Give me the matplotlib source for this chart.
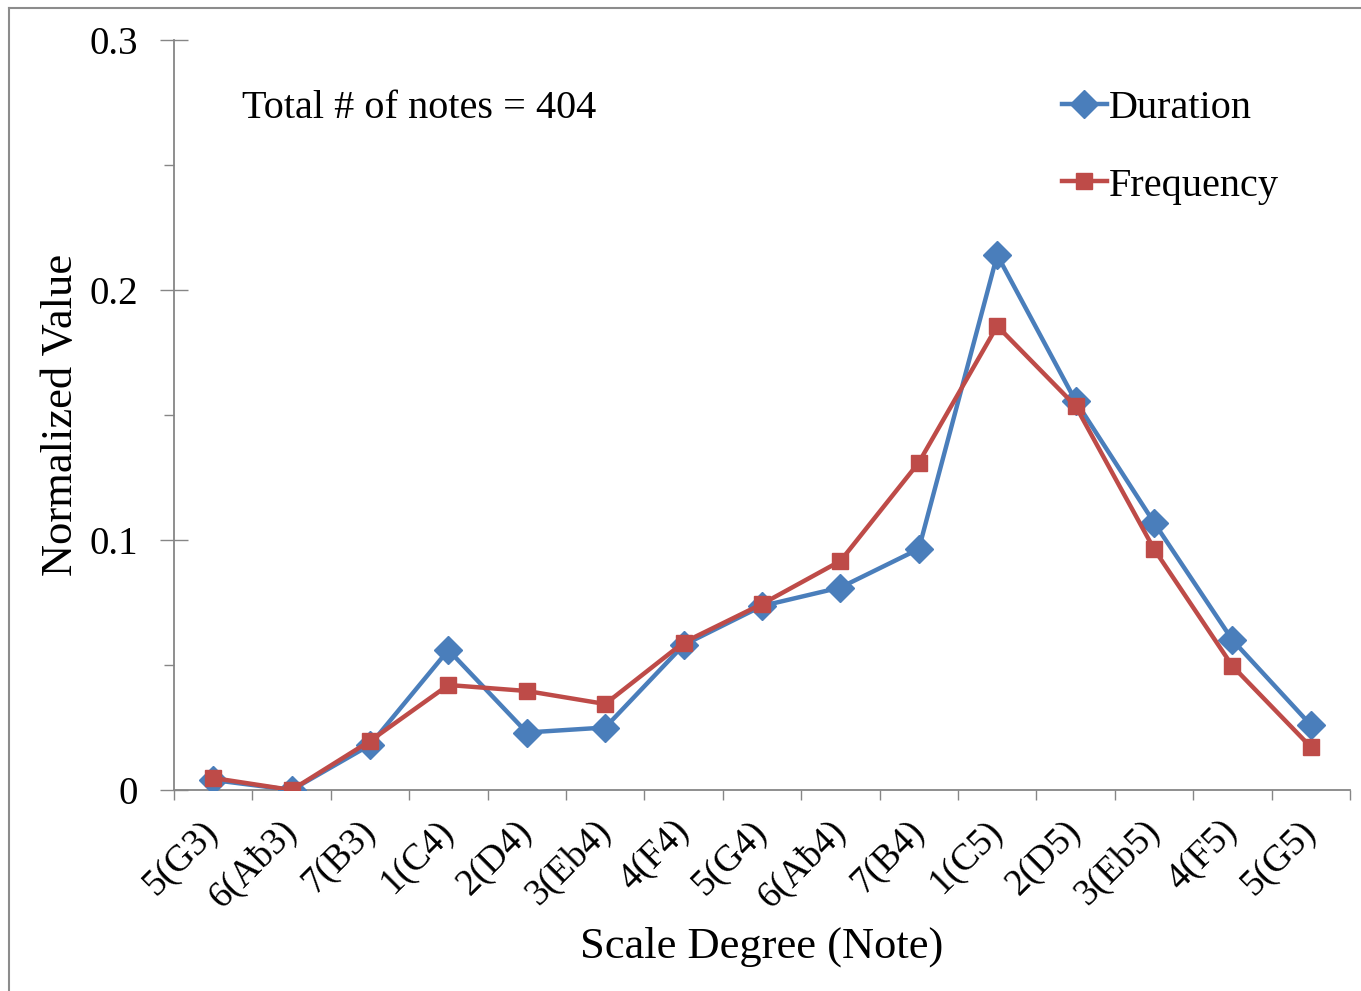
import matplotlib
matplotlib.use("Agg")
import matplotlib.pyplot as plt
from matplotlib.lines import Line2D
import numpy as np

categories = ["5(G3)", "6(A\u01803)", "7(B3)", "1(C4)", "2(D4)", "3(Eb4)", "4(F4)",
              "5(G4)", "6(A\u01804)", "7(B4)", "1(C5)", "2(D5)", "3(Eb5)", "4(F5)", "5(G5)"]
duration = [0.004, 0.0, 0.018, 0.056, 0.023, 0.025, 0.058, 0.0736, 0.081, 0.0964,
            0.214, 0.1556, 0.107, 0.060, 0.026]
frequency = [0.0048, 0.0, 0.0196, 0.042, 0.0396, 0.0344, 0.059, 0.0744, 0.0916, 0.131,
             0.1856, 0.1536, 0.0964, 0.0496, 0.0172]
y_ticks = [0, 0.1, 0.2, 0.3]
y_tick_labels = ["0", "0.1", "0.2", "0.3"]

plt.rcParams['font.family'] = ['Liberation Serif', 'DejaVu Serif']

W, H = 1361, 991
fig = plt.figure(figsize=(W / 100, H / 100), dpi=100)
ax = fig.add_axes([174 / W, 1 - 790 / H, (1350 - 174) / W, (790 - 40) / H])

x = np.arange(len(categories))
blue = "#4A7EBB"
red = "#BE4B48"
ax.plot(x, duration, color=blue, lw=3.2, marker='D', markersize=14, label="Duration", zorder=3)
ax.plot(x, frequency, color=red, lw=3.2, marker='s', markersize=12, label="Frequency", zorder=4)

ax.set_xlim(-0.5, len(categories) - 0.5)
ax.set_ylim(0, 0.3)

ax.set_xticks(np.arange(-0.5, len(categories), 1.0))
ax.set_xticklabels([])
ax.set_xticks(x, minor=True)
ax.set_xticklabels(categories, minor=True, rotation=45, ha='right', va='center',
                   rotation_mode='anchor', fontsize=27)
ax.tick_params(axis='x', which='major', direction='out', length=7, width=1, color='#868686')
ax.tick_params(axis='x', which='minor', length=0, pad=26)

ax.set_yticks(y_ticks)
ax.set_yticklabels(y_tick_labels, fontsize=28)
ax.set_yticks(np.arange(0.05, 0.3, 0.1), minor=True)
ax.tick_params(axis='y', which='major', direction='inout', length=20, width=1, color='#868686', pad=16)
ax.tick_params(axis='y', which='minor', direction='out', length=7, width=1, color='#868686')

for s in ['top', 'right']:
    ax.spines[s].set_visible(False)
for s in ['left', 'bottom']:
    ax.spines[s].set_color('#868686')
    ax.spines[s].set_linewidth(1.3)

ax.set_xlabel("Scale Degree (Note)", fontsize=32, labelpad=8)
ax.set_ylabel("Normalized Value", fontsize=32, labelpad=6)

ax.text(0.058, 0.909, "Total # of notes = 404", transform=ax.transAxes, fontsize=29,
        ha='left', va='center')

leg = ax.legend(loc='upper right', bbox_to_anchor=(0.953, 0.955), frameon=False, fontsize=29,
                handlelength=1.1, handletextpad=0.05, labelspacing=1.0, borderaxespad=0)

# outer border
fig.add_artist(Line2D([9 / W, 9 / W], [0, 1 - 8 / H], transform=fig.transFigure,
                      color='#8c8c8c', lw=1.5))
fig.add_artist(Line2D([9 / W, 1], [1 - 8 / H, 1 - 8 / H], transform=fig.transFigure,
                      color='#8c8c8c', lw=1.5))

fig.savefig("out.png", dpi=100)
